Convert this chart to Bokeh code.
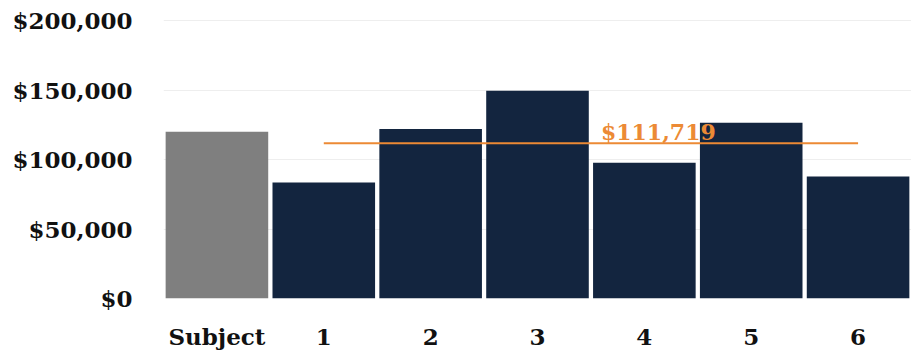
from bokeh.plotting import figure
from bokeh.models import ColumnDataSource, FactorRange, Range1d, NumeralTickFormatter, FixedTicker
from bokeh.core.properties import value
from bokeh.embed import file_html
from bokeh.resources import INLINE

# Salary comparison: subject vs. six comparables, with the comparables' average
categories = ["Subject", "1", "2", "3", "4", "5", "6"]
salaries = [120000, 83500, 122000, 149600, 97800, 126600, 87800]
bar_colors = ["#7f7f7f", "#13253f", "#13253f", "#13253f", "#13253f", "#13253f", "#13253f"]
average_value = 111719
average_label = "$111,719"
y_ticks = [0, 50000, 100000, 150000, 200000]

FONT = "DejaVu Serif"

src = ColumnDataSource(data=dict(cat=categories, val=salaries, color=bar_colors))

p = figure(
    x_range=FactorRange(*categories, range_padding=0),
    y_range=Range1d(0, 203000),
    width=911, height=353,
    output_backend="svg", toolbar_location=None,
    min_border_left=163, min_border_right=0, min_border_top=16, min_border_bottom=55,
)

p.vbar(x="cat", top="val", width=0.96, color="color", line_color=None, source=src)

# average line spans the comparables, from the first to the last
comps = categories[1:]
p.line(x=[comps[0], comps[-1]], y=[average_value, average_value],
       line_color="#ec8a35", line_width=2)
p.text(x=["4"], y=[average_value], text=[average_label],
       text_color="#ec8a35", text_font_size=value("22px"), text_font_style="bold",
       text_font=value(FONT), text_align="center", text_baseline="bottom",
       x_offset=14, y_offset=2)

p.yaxis.ticker = FixedTicker(ticks=y_ticks)
p.yaxis.formatter = NumeralTickFormatter(format="$0,0")

for ax in (p.xaxis[0], p.yaxis[0]):
    ax.axis_line_color = None
    ax.major_tick_line_color = None
    ax.minor_tick_line_color = None
    ax.major_label_text_font = FONT
    ax.major_label_text_font_style = "bold"
    ax.major_label_text_font_size = "23px"
    ax.major_label_text_color = "#111111"

p.yaxis.major_label_standoff = 25
p.xaxis.major_label_standoff = 18

p.xgrid.grid_line_color = None
p.ygrid.grid_line_color = "#eeeeee"
p.ygrid.grid_line_width = 1
p.outline_line_color = None
p.background_fill_color = "white"
p.border_fill_color = "white"

open("out.html", "w").write(file_html(p, INLINE))
